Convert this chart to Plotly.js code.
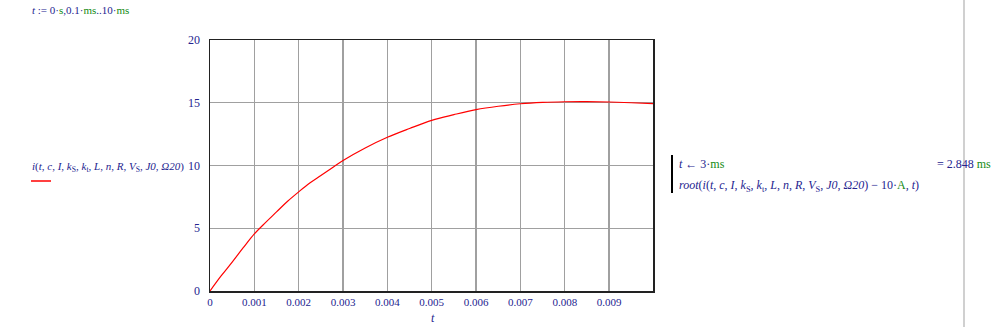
<!DOCTYPE html>
<html>
<head>
<meta charset="utf-8">
<script src="https://cdn.plot.ly/plotly-3.0.1.min.js"></script>
<style>html,body{margin:0;padding:0;background:#fff;}#chart{width:999px;height:327px;}</style>
</head>
<body>
<div id="chart"></div>
<script>
// time in seconds
var tVals = [0, 0.00025, 0.0005, 0.00075, 0.001, 0.00125, 0.0015, 0.00175, 0.002, 0.00225, 0.0025, 0.00275, 0.003, 0.0035, 0.004, 0.0045, 0.005, 0.0055, 0.006, 0.0065, 0.007, 0.0075, 0.008, 0.0085, 0.009, 0.0095, 0.00999];
// current i(t, ...) in A
var iVals = [0, 1.2, 2.3, 3.45, 4.55, 5.45, 6.3, 7.15, 7.9, 8.6, 9.2, 9.8, 10.4, 11.4, 12.25, 12.95, 13.6, 14.05, 14.45, 14.72, 14.92, 15.03, 15.08, 15.09, 15.06, 15.0, 14.93];
var xTickVals = [0, 0.001, 0.002, 0.003, 0.004, 0.005, 0.006, 0.007, 0.008, 0.009];
var xTickText = ["0", "0.001", "0.002", "0.003", "0.004", "0.005", "0.006", "0.007", "0.008", "0.009"];
var yTickVals = [0, 5, 10, 15, 20];
var yTickText = ["0", "5", "10", "15", "20"];

var W = 999, H = 327, L = 210, R = 653, T = 40, B = 291;
function px(x) { return (x - L) / (R - L); }
function py(y) { return (B - y) / (B - T); }

var blue = '#24248f', green = '#138a13', serif = 'Liberation Serif, Times New Roman, serif';
function G(s) { return '<span style="color:' + green + '">' + s + '</span>'; }
var args = '<i>t</i>, <i>c</i>, <i>I</i>, <i>k</i><sub>S</sub>, <i>k</i><sub>t</sub>, <i>L</i>, <i>n</i>, <i>R</i>, <i>V</i><sub>S</sub>, <i>J0</i>, <i>Ω20</i>';
var argsTight = '<i>t</i>,<i>c</i>,<i>I</i>,<i>k</i><sub>S</sub>,<i>k</i><sub>t</sub>,<i>L</i>,<i>n</i>,<i>R</i>,<i>V</i><sub>S</sub>,<i>J0</i>,<i>Ω20</i>';

var trace = {
  x: tVals, y: iVals, type: 'scatter', mode: 'lines',
  line: {color: '#ff0000', width: 1.2, shape: 'spline', smoothing: 1},
  hoverinfo: 'none', showlegend: false
};

var layout = {
  width: W, height: H, autosize: false,
  margin: {l: L, r: W - R, t: T, b: H - B, pad: 0},
  paper_bgcolor: '#ffffff', plot_bgcolor: '#ffffff',
  font: {family: serif, size: 11, color: blue},
  showlegend: false,
  xaxis: {
    range: [0, 0.00999], tickvals: xTickVals, ticktext: xTickText,
    showgrid: true, gridcolor: '#a0a0a0', gridwidth: 1.3,
    zeroline: false, showline: true, mirror: true, linecolor: '#222', linewidth: 1.5,
    ticks: '', tickfont: {family: serif, size: 11, color: blue}, fixedrange: true
  },
  yaxis: {
    range: [0, 20], tickvals: yTickVals, ticktext: yTickText,
    showgrid: true, gridcolor: '#a0a0a0', gridwidth: 1.3,
    zeroline: false, showline: true, mirror: true, linecolor: '#222', linewidth: 1.5,
    ticks: '', ticklabelstandoff: 6, tickfont: {family: serif, size: 12, color: blue}, fixedrange: true
  },
  shapes: [
    {type: 'line', xref: 'paper', yref: 'paper', x0: px(964), x1: px(964), y0: py(0), y1: py(327), line: {color: '#c0c0c0', width: 1.5}},
    {type: 'line', xref: 'paper', yref: 'paper', x0: px(672), x1: px(672), y0: py(155), y1: py(193), line: {color: '#000000', width: 2}},
    {type: 'line', xref: 'paper', yref: 'paper', x0: px(31), x1: px(51), y0: py(181), y1: py(181), line: {color: '#ff0000', width: 1.5}}
  ],
  annotations: [
    {xref: 'paper', yref: 'paper', x: px(30), y: py(10), xanchor: 'left', yanchor: 'middle', showarrow: false,
     text: '<i>t</i> := 0·' + G('s') + ',0.1·' + G('ms') + '..10·' + G('ms'), font: {family: serif, size: 11, color: blue}},
    {xref: 'paper', yref: 'paper', x: px(30), y: py(167), xanchor: 'left', yanchor: 'middle', showarrow: false,
     text: '<i>i</i>(' + args + ')', font: {family: serif, size: 11, color: blue}},
    {xref: 'paper', yref: 'paper', x: px(433), y: py(318), xanchor: 'center', yanchor: 'middle', showarrow: false,
     text: '<i>t</i>', font: {family: serif, size: 12, color: blue}},
    {xref: 'paper', yref: 'paper', x: px(677), y: py(164), xanchor: 'left', yanchor: 'middle', showarrow: false,
     text: '<i>t</i> ← 3·' + G('ms'), font: {family: serif, size: 12, color: blue}},
    {xref: 'paper', yref: 'paper', x: px(677), y: py(186), xanchor: 'left', yanchor: 'middle', showarrow: false,
     text: '<i>root</i>(<i>i</i>(' + args + ') − 10·' + G('A') + ', <i>t</i>)', font: {family: serif, size: 12, color: blue}},
    {xref: 'paper', yref: 'paper', x: px(935), y: py(164), xanchor: 'left', yanchor: 'middle', showarrow: false,
     text: '= 2.848 ' + G('ms'), font: {family: serif, size: 12, color: blue}}
  ]
};

Plotly.newPlot('chart', [trace], layout, {displayModeBar: false, staticPlot: true});
</script>
</body>
</html>
